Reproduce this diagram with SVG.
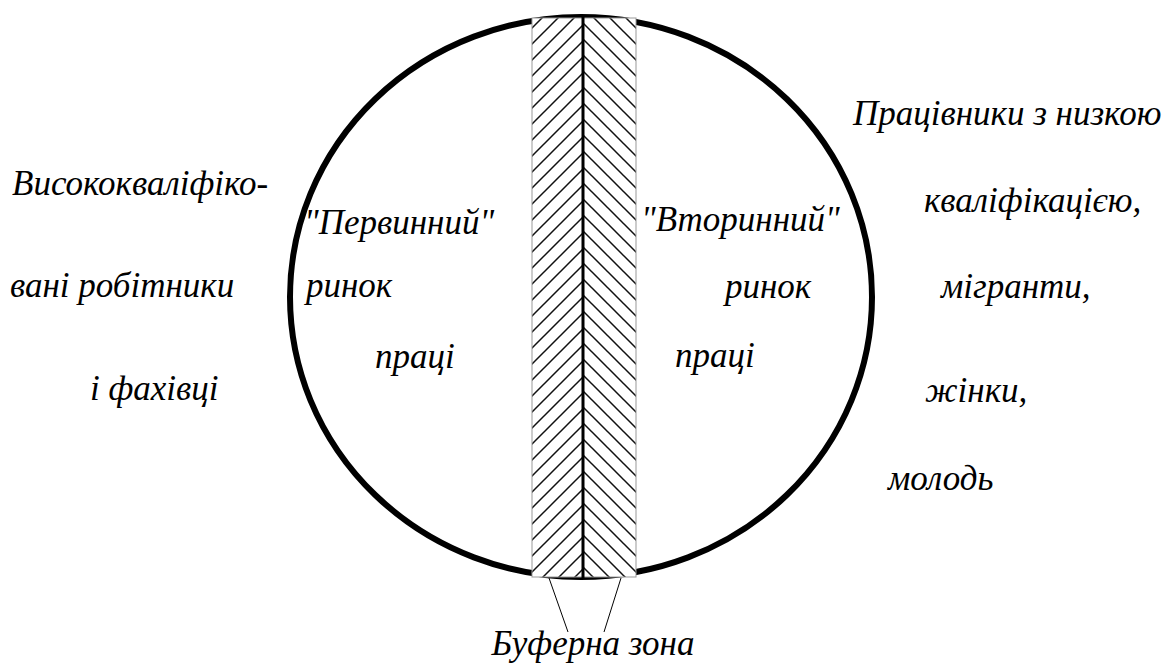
<svg xmlns="http://www.w3.org/2000/svg" width="1171" height="668" viewBox="0 0 1171 668">
<style>
text{font-family:"Liberation Serif","Times New Roman",serif;font-style:italic;font-size:35px;fill:#000}
</style>
<defs>
<pattern id="hl" patternUnits="userSpaceOnUse" width="16" height="16">
<path d="M-2,18 L18,-2 M-2,2 L2,-2 M14,18 L18,14" stroke="#111" stroke-width="1.5"/>
</pattern>
<pattern id="hr" patternUnits="userSpaceOnUse" width="16" height="16">
<path d="M-2,-2 L18,18 M-2,14 L2,18 M14,-2 L18,2" stroke="#111" stroke-width="1.5"/>
</pattern>
</defs>
<g id="circle">
<ellipse cx="581" cy="297" rx="291" ry="280" fill="none" stroke="#000" stroke-width="6"/>
</g>
<g id="buffer">
<rect x="532" y="18" width="51" height="559" fill="#fff"/>
<rect x="583" y="18" width="53" height="559" fill="#fff"/>
<rect x="532" y="18" width="51" height="559" fill="url(#hl)" stroke="#999" stroke-width="1"/>
<rect x="583" y="18" width="53" height="559" fill="url(#hr)" stroke="#999" stroke-width="1"/>
<line x1="583" y1="15" x2="583" y2="578" stroke="#000" stroke-width="3"/>
</g>
<g id="connectors">
<line x1="549" y1="578" x2="568" y2="632" stroke="#000" stroke-width="1"/>
<line x1="621" y1="578" x2="604" y2="632" stroke="#000" stroke-width="1"/>
</g>
<g id="left-label">
<text x="12" y="195">Висококваліфіко-</text>
<text x="10" y="297">вані робітники</text>
<text x="90" y="400">і фахівці</text>
</g>
<g id="primary">
<text x="304" y="234">"Первинний"</text>
<text x="306" y="297">ринок</text>
<text x="375" y="368">праці</text>
</g>
<g id="secondary">
<text x="641" y="231">"Вторинний"</text>
<text x="725" y="298">ринок</text>
<text x="675" y="367">праці</text>
</g>
<g id="right-label">
<text x="853" y="125">Працівники з низкою</text>
<text x="924" y="212">кваліфікацією,</text>
<text x="941" y="298">мігранти,</text>
<text x="925" y="402">жінки,</text>
<text x="888" y="490">молодь</text>
</g>
<g id="buffer-label">
<text x="593" y="655" text-anchor="middle">Буферна зона</text>
</g>
</svg>
